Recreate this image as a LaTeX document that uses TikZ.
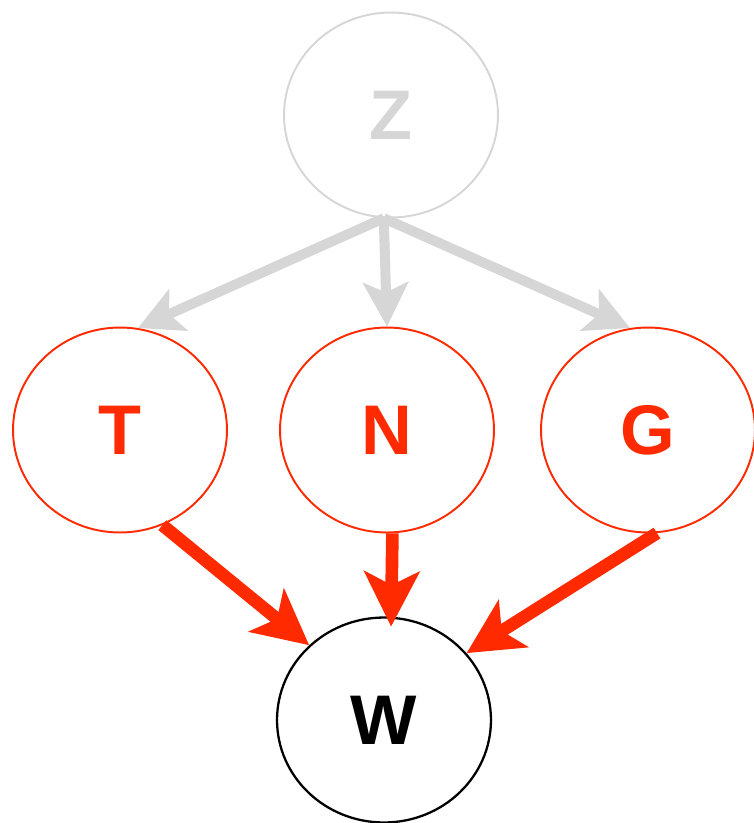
\documentclass[tikz,border=0pt]{standalone}
\usepackage{fontspec}
\setmainfont{Liberation Sans}
\usetikzlibrary{shapes.geometric, arrows.meta, positioning}
\definecolor{red1}{RGB}{255, 42, 0}
\definecolor{gray1}{RGB}{214, 214, 214}

\begin{document}
\begin{tikzpicture}[
  x=0.02cm, y=-0.02cm,
  var/.style={draw, ellipse, minimum width=4.28cm, minimum height=4.1cm, inner sep=0pt, font=\fontsize{40}{40}\selectfont\bfseries},
  latent/.style={var, draw=gray1, text=gray1, line width=1.1pt},
  obs/.style={var, draw=red1, text=red1, line width=1.1pt},
  outc/.style={var, draw=black, text=black, line width=1.3pt},
  garrow/.style={draw=gray1, line width=5.7pt, -{Stealth[length=0.88cm, width=0.9cm, inset=0.2cm]}},
  rarrow/.style={draw=red1, line width=7.2pt, -{Stealth[length=1.1cm, width=1.1cm, inset=0.27cm]}}
]
  \useasboundingbox (0,0) rectangle (754,823);
  \node[latent] (Z) at (391, 115) {Z};
  \node[obs] (T) at (120, 430) {T};
  \node[obs] (N) at (387, 430) {N};
  \node[obs] (G) at (648, 430) {G};
  \node[outc] (W) at (384, 720) {W};
  % confounder arrows
  \draw[garrow] (Z.266) -- (T.80);
  \draw[garrow] (Z.266) -- (N.north);
  \draw[garrow] (Z.266) -- (G.100);
  % causal arrows
  \draw[rarrow] (T.294) -- (W.135);
  \draw[rarrow, shorten >=-0.2cm] (N.273) -- (W.86);
  \draw[rarrow] (G.275) -- (W.39);
\end{tikzpicture}
\end{document}
